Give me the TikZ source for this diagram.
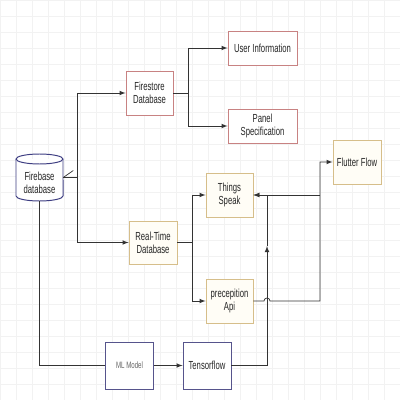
\documentclass[tikz,border=0pt]{standalone}
\usepackage{fontspec}
\setmainfont{Liberation Sans}[FakeStretch=0.66]
\usetikzlibrary{positioning}

\definecolor{redline}{RGB}{200,130,130}
\definecolor{tanline}{RGB}{214,190,138}
\definecolor{tanfill}{RGB}{255,253,246}
\definecolor{blueline}{RGB}{86,84,140}
\definecolor{cylline}{RGB}{62,62,130}

\tikzset{
	box/.style={draw, line width=0.6pt, align=center, inner sep=1pt,
		font=\fontsize{8.3}{9.3}\selectfont, text=black!85},
	redbox/.style={box, draw=redline, fill=white},
	tanbox/.style={box, draw=tanline, fill=tanfill},
	bluebox/.style={box, draw=blueline, fill=white},
	conn/.style={line width=0.5pt, draw=black!80},
	arr/.style={conn, -latex}
}

\begin{document}
\begin{tikzpicture}[x=0.025cm, y=-0.025cm]
	
	\useasboundingbox (0,0) rectangle (400,400);
	
	% Grid
	\draw[black!5, line width=0.3pt, step=0.4cm] (0,0) grid (400,400);
	
	% Cylinder
	\node[minimum width=1.175cm, minimum height=1.175cm, inner sep=0pt] (fb) at (39.5,177.5) {};
	\draw[cylline, line width=0.7pt, fill=white] (16,159) -- (16,196)
		arc[start angle=180, end angle=360, x radius=0.5875cm, y radius=0.125cm] -- (63,159);
	\draw[cylline, line width=0.7pt] (39.5,159) ellipse[x radius=0.5875cm, y radius=0.125cm];
	\node[box, draw=none] (fblabel) at (39.5,183) {Firebase\\database};
	
	% Boxes
	\node[redbox, minimum width=1.175cm, minimum height=1.1cm] (fs) at (149.5,93) {Firestore\\Database};
	\node[redbox, minimum width=1.725cm, minimum height=0.85cm] (ui) at (262.5,48) {User Information};
	\node[redbox, minimum width=1.725cm, minimum height=0.85cm] (ps) at (262.5,126) {Panel\\Specification};
	
	\node[tanbox, minimum width=1.2cm, minimum height=1.075cm] (rt) at (153,242.5) {Real-Time\\Database};
	\node[tanbox, minimum width=1.175cm, minimum height=1.1cm] (ts) at (229.5,195) {Things\\Speak};
	\node[tanbox, minimum width=1.175cm, minimum height=1.1cm] (pa) at (229.5,301) {precepition\\Api};
	\node[tanbox, minimum width=1.2cm, minimum height=1.1cm] (ff) at (357,162) {Flutter Flow};
	
	\node[bluebox, minimum width=1.2cm, minimum height=1.175cm,
		font=\fontsize{6.6}{8}\selectfont, text=black!60] (ml) at (129.5,365.5) {ML Model};
	\node[bluebox, minimum width=1.2cm, minimum height=1.175cm] (tf) at (207,365.5) {Tensorflow};
	
	% Connectors
	\draw[conn] (fb.east) -- (77,177.5) coordinate (j1);
	\draw[conn] (fb.east) -- ++(10,-7);
	\draw[arr] (j1) |- (fs.west);
	\draw[arr] (j1) |- (rt.west);
	
	\draw[conn] (fs.east) -- (188,93) coordinate (j2);
	\draw[arr] (j2) |- (ui.west);
	\draw[arr] (j2) |- (ps.west);
	
	\draw[conn] (rt.east) -- (192,242.5) coordinate (j3);
	\draw[arr] (j3) |- (ts.west);
	\draw[arr] (j3) |- (pa.west);
	
	\draw[arr] (pa.east) -- (264,301)
		arc[start angle=180, end angle=0, radius=0.075cm] -- (320,301) |- (ff.west);
	\coordinate (j4) at (320,195);
	\draw[arr] (j4) -- (ts.east);
	
	\draw[conn] (fb.south) |- (ml.west);
	\draw[arr] (ml) -- (tf);
	\draw[arr] (tf.east) -| (267,246) coordinate (m1);
	\draw[arr] (m1) |- (ts.east);
	
\end{tikzpicture}
\end{document}
